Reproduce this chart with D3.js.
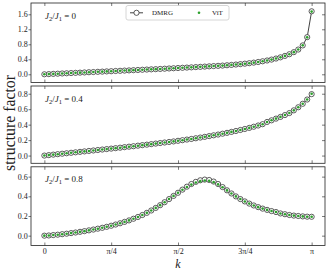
<!DOCTYPE html>
<html>
<head>
<meta charset="utf-8">
<script src="https://cdn.jsdelivr.net/npm/d3@7"></script>
<style>
body { margin: 0; background: #fff; }
svg { display: block; }
text { font-family: "Liberation Serif", "DejaVu Serif", serif; fill: #222; }
</style>
</head>
<body>
<div id="target"></div>
<script>
// chain of L sites, momenta k = 2*pi*n/L
const L = 120
const kModes = [0,1,2,3,4,5,6,7,8,9,10,11,12,13,14,15,16,17,18,19,20,21,22,23,24,25,26,27,28,29,30,
  31,32,33,34,35,36,37,38,39,40,41,42,43,44,45,46,47,48,49,50,51,52,53,54,55,56,57,58,59,60]

const ratios = ["0", "0.4", "0.8"]

// J2/J1 = 0
const dmrg0 = [0.000,0.005,0.011,0.016,0.022,0.027,0.033,0.038,0.044,0.049,0.055,0.060,0.066,0.071,0.077,0.082,
  0.088,0.093,0.099,0.104,0.110,0.115,0.121,0.126,0.132,0.137,0.143,0.149,0.155,0.161,0.167,0.173,0.179,0.185,
  0.192,0.198,0.205,0.212,0.219,0.225,0.232,0.241,0.250,0.260,0.271,0.283,0.296,0.311,0.328,0.347,0.368,0.392,
  0.420,0.452,0.490,0.535,0.590,0.660,0.770,0.990,1.680]
const vit0 = [0.000,0.005,0.011,0.016,0.022,0.027,0.033,0.038,0.044,0.049,0.055,0.060,0.066,0.071,0.077,0.082,
  0.088,0.093,0.099,0.104,0.110,0.115,0.121,0.126,0.132,0.137,0.143,0.149,0.155,0.161,0.167,0.173,0.179,0.185,
  0.192,0.198,0.205,0.212,0.219,0.225,0.232,0.241,0.250,0.260,0.271,0.283,0.296,0.311,0.328,0.347,0.368,0.392,
  0.420,0.452,0.490,0.535,0.590,0.660,0.772,0.985,1.672]

// J2/J1 = 0.4
const dmrg4 = [0.000,0.006,0.012,0.018,0.024,0.030,0.036,0.042,0.048,0.054,0.060,0.066,0.072,0.078,0.084,0.090,
  0.096,0.102,0.109,0.115,0.121,0.128,0.135,0.141,0.148,0.155,0.162,0.169,0.176,0.183,0.191,0.199,0.207,0.215,
  0.224,0.233,0.242,0.252,0.262,0.272,0.283,0.294,0.306,0.318,0.331,0.344,0.358,0.373,0.389,0.406,0.435,0.456,
  0.478,0.500,0.524,0.550,0.585,0.625,0.670,0.725,0.795]
const vit4 = [0.000,0.006,0.012,0.018,0.024,0.030,0.036,0.042,0.048,0.054,0.060,0.066,0.072,0.078,0.084,0.090,
  0.096,0.102,0.109,0.115,0.121,0.128,0.135,0.141,0.148,0.155,0.162,0.169,0.176,0.183,0.191,0.199,0.207,0.215,
  0.224,0.233,0.242,0.252,0.262,0.272,0.283,0.294,0.306,0.318,0.331,0.344,0.358,0.373,0.389,0.406,0.435,0.456,
  0.478,0.500,0.524,0.550,0.585,0.625,0.670,0.725,0.800]

// J2/J1 = 0.8
const dmrg8 = [0.000,0.002,0.006,0.010,0.015,0.020,0.026,0.032,0.039,0.046,0.054,0.062,0.071,0.080,0.090,0.101,
  0.113,0.126,0.140,0.155,0.172,0.190,0.210,0.232,0.256,0.282,0.310,0.340,0.372,0.404,0.436,0.468,0.498,0.525,
  0.547,0.563,0.570,0.566,0.550,0.525,0.494,0.461,0.429,0.399,0.372,0.348,0.326,0.307,0.290,0.275,0.262,0.250,
  0.240,0.226,0.218,0.210,0.204,0.200,0.196,0.193,0.192]
const vit8 = [0.000,0.002,0.006,0.010,0.015,0.020,0.026,0.032,0.039,0.046,0.054,0.062,0.071,0.080,0.090,0.101,
  0.113,0.126,0.140,0.155,0.172,0.190,0.210,0.232,0.256,0.282,0.310,0.340,0.372,0.404,0.436,0.466,0.494,0.519,
  0.540,0.554,0.560,0.557,0.544,0.521,0.492,0.460,0.429,0.399,0.372,0.348,0.326,0.307,0.290,0.275,0.262,0.250,
  0.240,0.226,0.218,0.210,0.204,0.200,0.196,0.193,0.192]

const yTicks0 = [0.0, 0.4, 0.8, 1.2, 1.6]
const yTicks4 = [0.0, 0.2, 0.4, 0.6, 0.8]
const yTicks8 = [0.0, 0.2, 0.4, 0.6]

const xTickFracs = [0, 0.25, 0.5, 0.75, 1]
const xTickLabels = ["0", "π/4", "π/2", "3π/4", "π"]

const series = [
  { ratio: ratios[0], dmrg: dmrg0, vit: vit0, ticks: yTicks0 },
  { ratio: ratios[1], dmrg: dmrg4, vit: vit4, ticks: yTicks4 },
  { ratio: ratios[2], dmrg: dmrg8, vit: vit8, ticks: yTicks8 },
]

// layout
const width = 328
const height = 272
const left = 31
const right = 325
const panelBox = [[3, 82.5], [86, 163.3], [166.8, 245.5]]
const ylims = [[-0.219, 1.901], [-0.1, 0.9], [-0.1, 0.7]]
const green = "#2ca02c"

const svg = d3.select("#target").append("svg")
    .attr("width", width)
    .attr("height", height)

const x = d3.scaleLinear()
    .domain([-0.05 * Math.PI, 1.05 * Math.PI])
    .range([left, right])

const kOf = n => 2 * Math.PI * n / L

series.forEach((s, i) => {
    const [top, bottom] = panelBox[i]

    const y = d3.scaleLinear()
        .domain(ylims[i])
        .range([bottom, top])

    const g = svg.append("g")

    //Ticks
    const tickStyle = sel => {
        sel.select(".domain").remove()
        sel.selectAll(".tick line").attr("stroke", "#222").attr("stroke-width", 0.6)
        sel.selectAll(".tick text")
            .attr("font-family", '"Liberation Serif", serif')
            .attr("font-size", 8)
            .attr("fill", "#333")
    }

    g.append("g")
        .attr("transform", "translate(" + left + ",0)")
        .call(d3.axisLeft(y).tickValues(s.ticks).tickFormat(d3.format(".1f")).tickSize(2.5).tickPadding(0.8))
        .call(tickStyle)

    g.append("g")
        .attr("transform", "translate(" + right + ",0)")
        .call(d3.axisRight(y).tickValues(s.ticks).tickSize(-3).tickFormat(""))
        .call(tickStyle)

    const xTickVals = xTickFracs.map(f => f * Math.PI)

    g.append("g")
        .attr("transform", "translate(0," + top + ")")
        .call(d3.axisTop(x).tickValues(xTickVals).tickSize(-3).tickFormat(""))
        .call(tickStyle)

    g.append("g")
        .attr("transform", "translate(0," + bottom + ")")
        .call(d3.axisBottom(x).tickValues(xTickVals).tickSize(-3).tickPadding(2.5)
            .tickFormat((d, j) => i === 2 ? xTickLabels[j] : ""))
        .call(tickStyle)

    //Frame
    g.append("rect")
        .attr("x", left)
        .attr("y", top)
        .attr("width", right - left)
        .attr("height", bottom - top)
        .attr("fill", "none")
        .attr("stroke", "#222")
        .attr("stroke-width", 0.8)

    const pts = kModes.map((n, j) => ({ k: kOf(n), d: s.dmrg[j], v: s.vit[j] }))

    //DMRG line + open circles
    const line = d3.line()
        .x(d => x(d.k))
        .y(d => y(d.d))

    g.append("path")
        .attr("d", line(pts))
        .attr("fill", "none")
        .attr("stroke", "#111")
        .attr("stroke-width", 0.8)

    g.selectAll(".dmrg")
        .data(pts)
        .enter()
        .append("circle")
        .attr("cx", d => x(d.k))
        .attr("cy", d => y(d.d))
        .attr("r", 2.6)
        .attr("fill", "white")
        .attr("stroke", "#333")
        .attr("stroke-width", 0.8)

    //ViT dots
    g.selectAll(".vit")
        .data(pts)
        .enter()
        .append("circle")
        .attr("cx", d => x(d.k))
        .attr("cy", d => y(d.v))
        .attr("r", 1.3)
        .attr("fill", green)

    //Panel label J2/J1 = ...
    const lab = g.append("text")
        .attr("x", 45)
        .attr("y", top + 15.5)
        .attr("font-size", 9)
        .attr("fill", "#333")
    lab.append("tspan").attr("font-style", "italic").text("J")
    lab.append("tspan").attr("font-size", 6.5).attr("dy", 2).text("2")
    lab.append("tspan").attr("dy", -2).text("/")
    lab.append("tspan").attr("font-style", "italic").text("J")
    lab.append("tspan").attr("font-size", 6.5).attr("dy", 2).text("1")
    lab.append("tspan").attr("dy", -2).text(" = " + s.ratio)
})

// Legend
const legend = svg.append("g")

legend.append("rect")
    .attr("x", 126)
    .attr("y", 5.5)
    .attr("width", 103)
    .attr("height", 14.5)
    .attr("rx", 2)
    .attr("fill", "white")
    .attr("fill-opacity", 0.85)
    .attr("stroke", "#ccc")
    .attr("stroke-width", 0.8)

legend.append("line")
    .attr("x1", 130).attr("x2", 143)
    .attr("y1", 12.8).attr("y2", 12.8)
    .attr("stroke", "#111")
    .attr("stroke-width", 0.8)

legend.append("circle")
    .attr("cx", 136.5).attr("cy", 12.8).attr("r", 2.6)
    .attr("fill", "white").attr("stroke", "#333").attr("stroke-width", 0.8)

legend.append("text")
    .attr("x", 152).attr("y", 15.2)
    .attr("font-size", 7)
    .attr("fill", "#333")
    .text("DMRG")

legend.append("circle")
    .attr("cx", 199).attr("cy", 12.8).attr("r", 1.3)
    .attr("fill", green)

legend.append("text")
    .attr("x", 212).attr("y", 15.2)
    .attr("font-size", 7)
    .attr("fill", "#333")
    .text("ViT")

// Axis titles
const ylab = svg.append("text")
    .attr("transform", "translate(15,123) rotate(-90)")
    .attr("text-anchor", "middle")
    .attr("font-size", 14)
    .attr("fill", "#222")
    .text("structure factor")

// fit the label to the length it has in the figure (~96px)
const ylen = ylab.node().getComputedTextLength()
ylab.attr("font-size", 14 * 96 / ylen)

svg.append("text")
    .attr("x", 178)
    .attr("y", 268)
    .attr("text-anchor", "middle")
    .attr("font-size", 12)
    .attr("font-style", "italic")
    .attr("fill", "#222")
    .text("k")
</script>
</body>
</html>
